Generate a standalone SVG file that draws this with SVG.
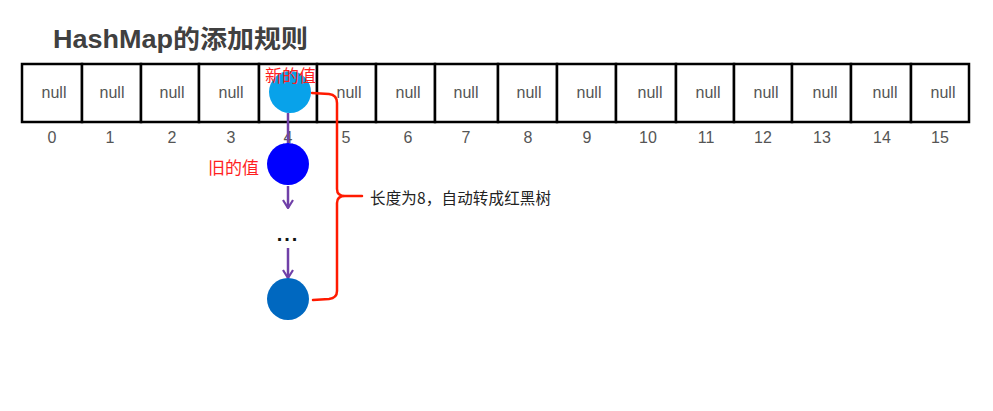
<svg xmlns="http://www.w3.org/2000/svg" width="993" height="411" viewBox="0 0 993 411">
<defs>
<style>
.cell{fill:#fff;stroke:#000;stroke-width:2.5}
.null{font-family:"Liberation Sans","Noto Sans",sans-serif;font-size:16px;fill:#555;text-anchor:middle}
.idx{font-family:"Liberation Sans","Noto Sans",sans-serif;font-size:16px;fill:#555;text-anchor:middle}
.red{font-family:"Liberation Sans","Noto Sans CJK SC",sans-serif;font-size:17px;fill:#ff1f1f}
.title{font-family:"Liberation Sans","Noto Sans CJK SC",sans-serif;font-size:25px;font-weight:bold;fill:#404040}
.arrow{stroke:#7040a8;stroke-width:2.5;fill:none;marker-end:url(#chev)}
.brace{stroke:#ff1a00;stroke-width:2.5;fill:none;stroke-linejoin:round;stroke-linecap:round}
</style>
<marker id="chev" viewBox="0 0 10 12" refX="9" refY="6" markerWidth="10" markerHeight="12" markerUnits="userSpaceOnUse" orient="auto">
<path d="M1,1 L9,6 L1,11" fill="none" stroke="#7040a8" stroke-width="2.2"/>
</marker>
</defs>
<rect width="993" height="411" fill="#fff"/>
<text id="title" class="title" x="53" y="48" textLength="255" lengthAdjust="spacingAndGlyphs">HashMap的添加规则</text>

<g id="cell0"><rect class="cell" x="22" y="64" width="60" height="58"/><text class="null" x="54" y="98">null</text><text class="idx" x="52" y="143">0</text></g>
<g id="cell1"><rect class="cell" x="82" y="64" width="59" height="58"/><text class="null" x="112" y="98">null</text><text class="idx" x="110" y="143">1</text></g>
<g id="cell2"><rect class="cell" x="141" y="64" width="58" height="58"/><text class="null" x="172" y="98">null</text><text class="idx" x="172" y="143">2</text></g>
<g id="cell3"><rect class="cell" x="199" y="64" width="60" height="58"/><text class="null" x="231" y="98">null</text><text class="idx" x="231" y="143">3</text></g>
<g id="cell4"><rect class="cell" x="259" y="64" width="58" height="58"/><text class="idx" x="288" y="143">4</text></g>
<g id="cell5"><rect class="cell" x="317" y="64" width="59" height="58"/><text class="null" x="349" y="98">null</text><text class="idx" x="346" y="143">5</text></g>
<g id="cell6"><rect class="cell" x="376" y="64" width="59" height="58"/><text class="null" x="408" y="98">null</text><text class="idx" x="408" y="143">6</text></g>
<g id="cell7"><rect class="cell" x="435" y="64" width="63" height="58"/><text class="null" x="466" y="98">null</text><text class="idx" x="466" y="143">7</text></g>
<g id="cell8"><rect class="cell" x="498" y="64" width="59" height="58"/><text class="null" x="529" y="98">null</text><text class="idx" x="528" y="143">8</text></g>
<g id="cell9"><rect class="cell" x="557" y="64" width="59" height="58"/><text class="null" x="589" y="98">null</text><text class="idx" x="587" y="143">9</text></g>
<g id="cell10"><rect class="cell" x="616" y="64" width="60" height="58"/><text class="null" x="650" y="98">null</text><text class="idx" x="648" y="143">10</text></g>
<g id="cell11"><rect class="cell" x="676" y="64" width="58" height="58"/><text class="null" x="708" y="98">null</text><text class="idx" x="706" y="143">11</text></g>
<g id="cell12"><rect class="cell" x="734" y="64" width="58" height="58"/><text class="null" x="766" y="98">null</text><text class="idx" x="763" y="143">12</text></g>
<g id="cell13"><rect class="cell" x="792" y="64" width="59" height="58"/><text class="null" x="825" y="98">null</text><text class="idx" x="822" y="143">13</text></g>
<g id="cell14"><rect class="cell" x="851" y="64" width="60" height="58"/><text class="null" x="885" y="98">null</text><text class="idx" x="882" y="143">14</text></g>
<g id="cell15"><rect class="cell" x="911" y="64" width="58" height="58"/><text class="null" x="943" y="98">null</text><text class="idx" x="940" y="143">15</text></g>

<g id="connectors">
<line class="arrow" x1="288" y1="113" x2="288" y2="152"/>
<line class="arrow" x1="288" y1="186" x2="288" y2="208"/>
<line class="arrow" x1="288" y1="248" x2="288" y2="278"/>
<path class="brace" d="M312,93 L329,94 Q337,95 337,103 L337,189 Q337,196 345,196 L362,196 M345,196 Q337,196 337,203 L337,291 Q337,298 329,299 L313,300"/>
</g>

<g id="newValue"><circle cx="290" cy="92" r="21" fill="#08a2ea"/><text class="red" x="265" y="82">新的值</text></g>
<g id="oldValue"><circle cx="288" cy="164" r="21" fill="#0000ff"/><text class="red" x="208" y="174">旧的值</text></g>
<g id="ellipsis"><text x="288" y="241" font-family="'Liberation Sans',sans-serif" font-size="20" font-weight="bold" fill="#111" text-anchor="middle" letter-spacing="2">...</text></g>
<g id="lastValue"><circle cx="288" cy="299" r="21" fill="#0068c0"/></g>
<g id="note"><text x="370" y="204" font-family="'Noto Sans CJK SC',sans-serif" font-size="15.5" fill="#222" textLength="181">长度为8，自动转成红黑树</text></g>
</svg>
